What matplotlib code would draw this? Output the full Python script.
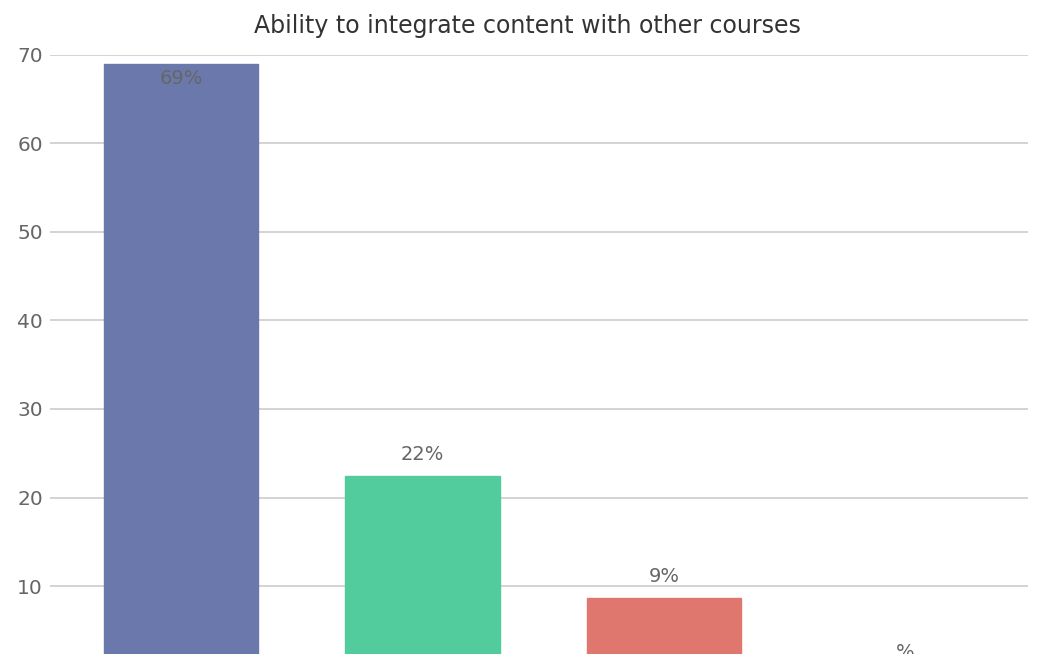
import matplotlib.pyplot as plt

categories = ['A', 'B', 'C', 'D']
values = [68.97, 22.41, 8.62, 0]
labels = ['69%', '22%', '9%', '%']
colors = ['#6b78ab', '#52cc9d', '#e0776e', '#f2c14e']

plt.rcParams['font.family'] = ['DejaVu Sans']

fig = plt.figure(figsize=(10.37, 6.54), dpi=100)
# axes runs past the bottom edge, the reference is cropped there
ax = fig.add_axes([50 / 1037, 1 - 674.5 / 654, 978 / 1037, 619.5 / 654])

x = list(range(len(categories)))
ax.bar(x, values, width=0.638, color=colors, edgecolor=colors, zorder=2)

ax.set_xlim(-0.5424, 3.507)
ax.set_ylim(0, 70)
ax.set_yticks(range(10, 71, 10))
ax.yaxis.grid(True, color='#cccccc', lw=1.2, zorder=0)
ax.set_xticks([])
ax.tick_params(axis='y', length=0, pad=5, labelsize=14.5, labelcolor='#666666')
for s in ax.spines.values():
    s.set_visible(False)

for i, (v, lab) in enumerate(zip(values, labels)):
    if v > 60:
        ax.annotate(lab, (i, v), xytext=(0, -14), textcoords='offset pixels',
                    ha='center', va='center', fontsize=14, color='#666666')
    else:
        ax.annotate(lab, (i, v), xytext=(0, 22), textcoords='offset pixels',
                    ha='center', va='center', fontsize=14, color='#666666')

fig.text(527 / 1037, 1 - 25.5 / 654, 'Ability to integrate content with other courses',
         ha='center', va='center', fontsize=17, color='#333333')

fig.savefig('out.png', dpi=100)
